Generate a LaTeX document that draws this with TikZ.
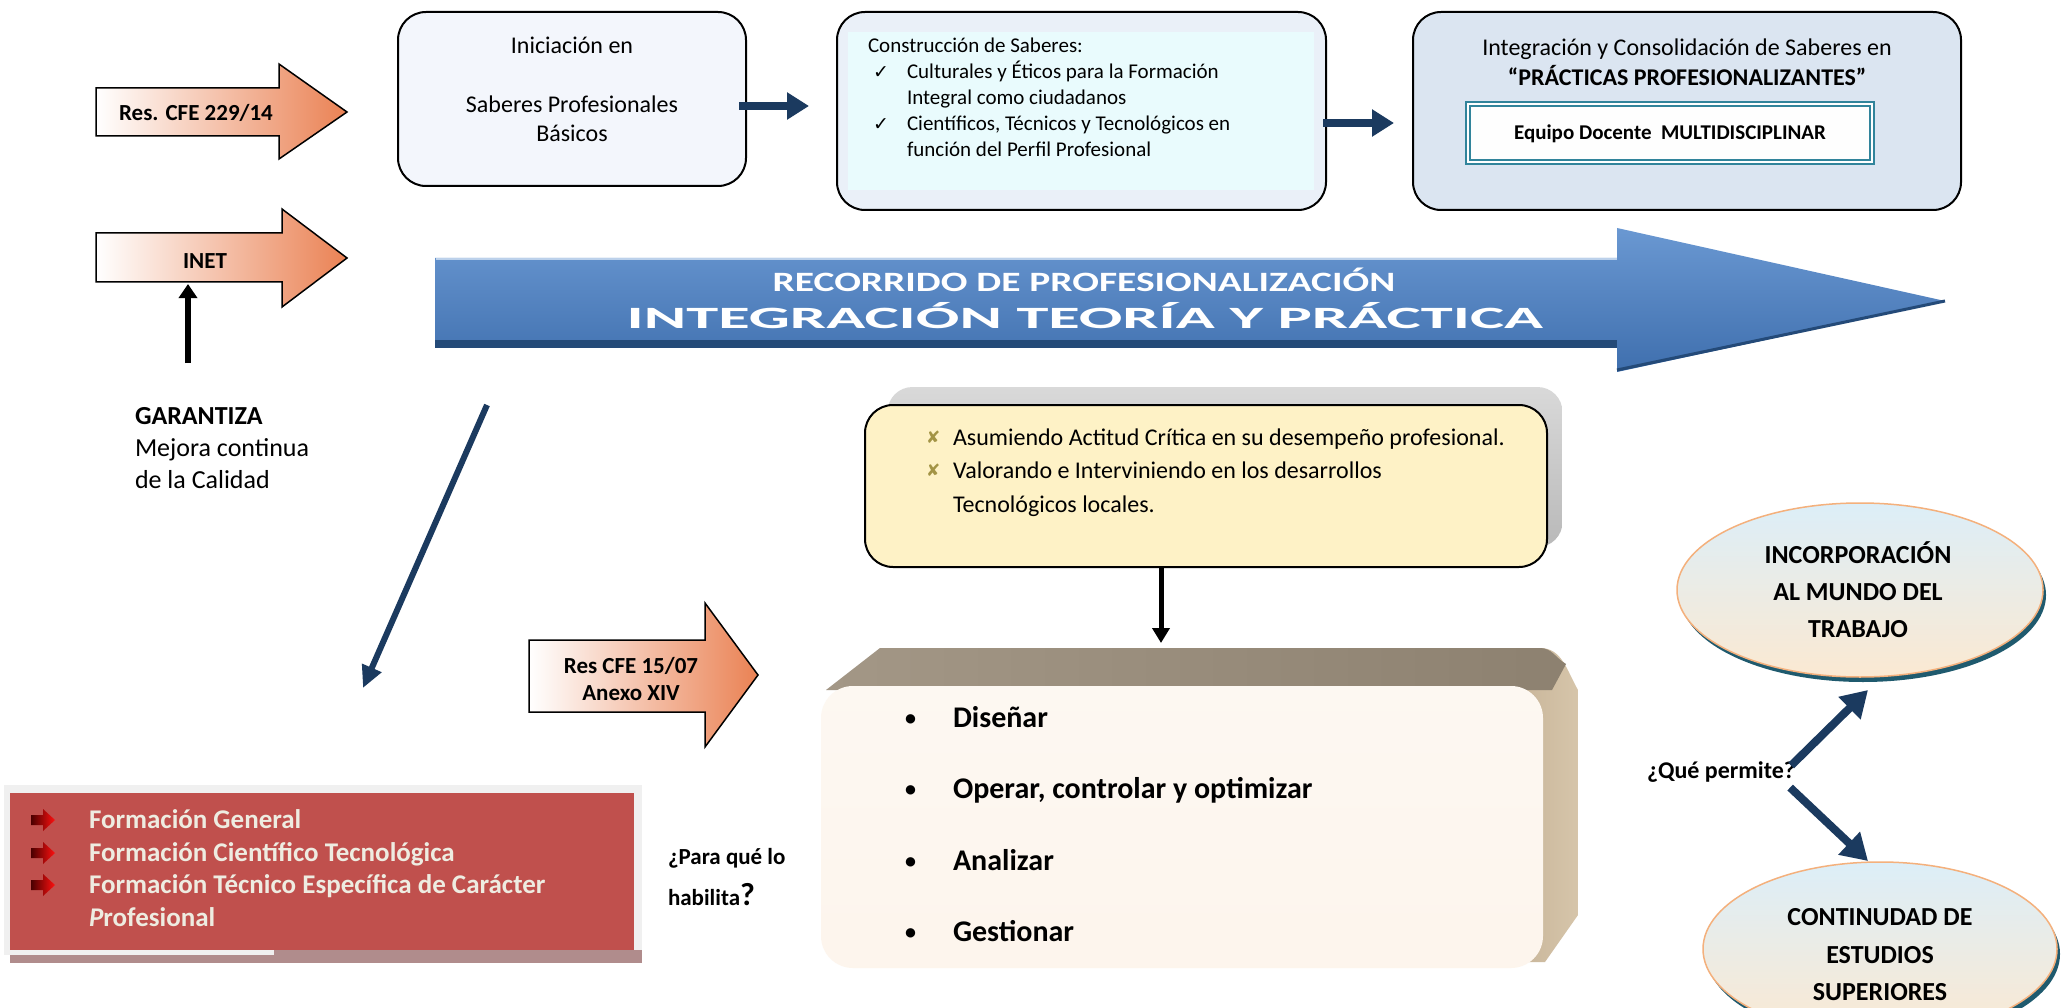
\documentclass[tikz,border=0pt]{standalone}
\usepackage{graphicx}
\usepackage{fontspec}
\setmainfont{Carlito}
\newfontfamily\symfont{DejaVu Sans}
\usetikzlibrary{arrows.meta,calc,shapes.geometric}
\definecolor{navy}{HTML}{1B3A5F}
\definecolor{boxa}{HTML}{F3F6FC}
\definecolor{boxb}{HTML}{EAF0F8}
\definecolor{boxbin}{HTML}{E9FBFD}
\definecolor{boxc}{HTML}{DBE5F1}
\definecolor{tealc}{HTML}{31849B}
\definecolor{orng}{HTML}{EA8254}
\definecolor{bluetop}{HTML}{6A98D2}
\definecolor{bluebot}{HTML}{3F6FAE}
\definecolor{blueedge}{HTML}{244A78}
\definecolor{yel}{HTML}{FEF2C6}
\definecolor{shadowgray}{HTML}{B9B9B9}
\definecolor{redbox}{HTML}{C0504D}
\definecolor{cream}{HTML}{EEECE1}
\definecolor{olive}{HTML}{A39445}
\definecolor{darkred}{HTML}{4A0000}
\definecolor{brightred}{HTML}{FF1010}
\definecolor{framegray}{HTML}{F0F0F0}
\definecolor{redshadow}{HTML}{B08C8C}
\definecolor{facetop}{HTML}{8D8170}
\definecolor{facetopl}{HTML}{A39786}
\definecolor{faceside}{HTML}{D6C5AA}
\definecolor{facesided}{HTML}{C2AE92}
\definecolor{peach}{HTML}{F8E2CA}
\definecolor{ellblue}{HTML}{DCEEF8}
\definecolor{ellcream}{HTML}{FBE9D2}
\definecolor{ellborder}{HTML}{F4B07C}
\definecolor{ellshadow}{HTML}{1F5A6E}
\begin{document}
\begin{tikzpicture}[x=1pt,y=-1pt,
  every node/.style={inner sep=0pt,outer sep=0pt},
  txt/.style={font=\fontsize{#1}{#1}\selectfont},
  txtb/.style={font=\fontsize{#1}{#1}\selectfont\bfseries},
  resarrow/.style={draw=black,line width=1.5pt,left color=white,right color=orng},
  navyarrow/.style={draw=navy,line width=8pt,-{Triangle[width=26pt,length=22pt]}},
  navyarrowb/.style={draw=navy,line width=8pt,-{Triangle[width=30pt,length=26pt]}},
  blackarrow/.style={draw=black,line width=5pt,-{Triangle[width=17pt,length=15pt]}},
  roundbox/.style={draw=black,line width=2pt,rounded corners=28pt},
  ckmark/.style={font=\symfont\fontsize{19}{19}\selectfont},
  xmark/.style={text=olive,font=\symfont\fontsize{17}{17}\selectfont},
  ell/.style={ellipse,draw=ellborder,line width=1.5pt,top color=ellblue,bottom color=ellcream},
  ellsh/.style={ellipse,fill=ellshadow},
  redarrowpic/.pic={\path[left color=darkred,right color=brightred] (-12,-5) -- (0,-5) -- (0,-11) -- (12,0) -- (0,11) -- (0,5) -- (-12,5) -- cycle;}
]
\useasboundingbox (0,0) rectangle (2066,1008);
\fill[white] (0,0) rectangle (2066,1008);
\clip (0,0) rectangle (2066,1008);

% ---------- left block arrows ----------
\path[resarrow] (96,88) -- (279,88) -- (279,64) -- (347,112) -- (279,159) -- (279,136) -- (96,136) -- cycle;
\node[txtb=23,anchor=base] (res229) at (196,121) {Res. CFE 229/14};
\path[resarrow] (96,233) -- (282,233) -- (282,209) -- (347,258) -- (282,307) -- (282,282) -- (96,282) -- cycle;
\node[txtb=23,anchor=base] (inet) at (205,269) {INET};
\coordinate (upfoot) at (188,363);
\coordinate (inetbottom) at (188,284);
\draw[blackarrow,line width=6pt,-{Triangle[width=18pt,length=14pt]}] (upfoot) -- (inetbottom);

\node[txtb=26,anchor=base west] (gar1) at (135,424) {GARANTIZA};
\node[txt=26,anchor=base west] (gar2) at (135,456) {Mejora continua};
\node[txt=26,anchor=base west] (gar3) at (135,488) {de la Calidad};

% ---------- top boxes ----------
\node[roundbox,fill=boxa,minimum width=348pt,minimum height=174pt] (box1) at (572,99) {};
\node[txt=24,anchor=base] (ini1) at (572,54) {Iniciación en};
\node[txt=24,anchor=base] (ini2) at (572,113) {Saberes Profesionales};
\node[txt=24,anchor=base] (ini3) at (572,142) {Básicos};

\node[roundbox,fill=boxb,minimum width=489pt,minimum height=198pt] (box2) at (1081.5,111) {};
\node[fill=boxbin,minimum width=466pt,minimum height=158pt] (box2in) at (1081,111) {};
\node[txt=21,anchor=base west] (cs0) at (868,53) {Construcción de Saberes:};
\node[ckmark,anchor=base west] (ck1) at (873,79) {✓};
\node[txt=21,anchor=base west] (cs1) at (907,79) {Culturales y Éticos para la Formación};
\node[txt=21,anchor=base west] (cs2) at (907,105) {Integral como ciudadanos};
\node[ckmark,anchor=base west] (ck2) at (873,131) {✓};
\node[txt=21,anchor=base west] (cs3) at (907,131) {Científicos, Técnicos y Tecnológicos en};
\node[txt=21,anchor=base west] (cs4) at (907,157) {función del Perfil Profesional};

\node[roundbox,fill=boxc,minimum width=548pt,minimum height=198pt] (box3) at (1687,111) {};
\node[txt=24,anchor=base] (ic1) at (1687,56) {Integración y Consolidación de Saberes en};
\node[txtb=24,anchor=base] (ic2) at (1687,86) {“PRÁCTICAS PROFESIONALIZANTES”};
\node[draw=tealc,line width=1.6pt,double=white,double distance=2pt,fill=white!96!boxc,minimum width=404pt,minimum height=58pt] (equipo) at (1670,133) {};
\node[txtb=21,anchor=base] (eq) at (1670,140) {Equipo Docente\ \ MULTIDISCIPLINAR};

\draw[navyarrow,shorten >=28pt] ([xshift=-7pt,yshift=-7pt]box1.east) -- ([yshift=-7pt]box1.east -| box2.west);
\draw[navyarrow,shorten >=19pt] ([xshift=-3pt,yshift=-12pt]box2.east) -- ([yshift=-12pt]box2.east -| box3.west);

% ---------- big blue arrow ----------
\path[top color=bluetop,bottom color=bluebot] (435,258) -- (1617,258) -- (1617,228) -- (1945,301) -- (1617,372) -- (1617,347) -- (435,347) -- cycle;
\fill[blueedge] (435,340) rectangle (1617,348);
\draw[blueedge,line width=3pt] (1617,370) -- (1945,301);
\draw[white!55!bluetop,line width=2pt] (436,259) -- (1617,259);
\node[txtb=28,text=white,anchor=base] (rec) at (1084,291) {\scalebox{1.41}[1]{RECORRIDO DE PROFESIONALIZACIÓN}};
\node[txtb=31,text=white,anchor=base] (integ) at (1085,328) {\scalebox{2.08}[1]{INTEGRACIÓN TEORÍA Y PRÁCTICA}};

% ---------- diagonal arrow ----------
\coordinate (dstart) at (487,405);
\coordinate (dend) at (363,688);
\draw[draw=navy,line width=6pt,-{Triangle[width=20pt,length=22pt]}] (dstart) -- (dend);

% ---------- yellow box ----------
\node[rounded corners=25pt,top color=gray!30,bottom color=shadowgray,minimum width=675pt,minimum height=160pt] (yshadow) at (1225,467) {};
\node[roundbox,fill=yel,minimum width=682pt,minimum height=162pt] (ybox) at (1206,486) {};
\node[xmark,anchor=base west] (yb1) at (926,443) {✘};
\node[txt=24,anchor=base west] (y1) at (953,445) {Asumiendo Actitud Crítica en su desempeño profesional.};
\node[xmark,anchor=base west] (yb2) at (926,476) {✘};
\node[txt=24,anchor=base west] (y2) at (953,478) {Valorando e Interviniendo en los desarrollos};
\node[txt=24,anchor=base west] (y3) at (953,512) {Tecnológicos locales.};

\coordinate (dtop) at (1161,643);
\draw[blackarrow] (ybox.south -| dtop) -- (dtop);

% ---------- Res CFE 15/07 ----------
\path[resarrow] (529,640) -- (705,640) -- (705,603) -- (758,675) -- (705,747) -- (705,712) -- (529,712) -- cycle;
\node[txtb=23,anchor=base] (res15a) at (631,673) {Res CFE 15/07};
\node[txtb=23,anchor=base] (res15b) at (631,700) {Anexo XIV};

% ---------- bottom 3D box ----------
\path[left color=facesided,right color=faceside] (1490,648) -- (1540,648) to[out=0,in=120] (1578,690) -- (1578,915) -- (1545,962) -- (1490,962) -- cycle;
\path[left color=facetopl,right color=facetop] (826,690) -- (880,648) -- (1540,648) to[out=0,in=150] (1566,664) -- (1552,690) -- cycle;
\node[rounded corners=32pt,minimum width=722pt,minimum height=282pt,top color=white!75!peach,middle color=peach,bottom color=white!65!peach] (bbox) at (1182,827) {};
\node[txtb=22,anchor=base west] (bb1) at (905,725) {•};
\node[txtb=30,anchor=base west] (b1) at (953,727) {Diseñar};
\node[txtb=22,anchor=base west] (bb2) at (905,796) {•};
\node[txtb=30,anchor=base west] (b2) at (953,798) {Operar, controlar y optimizar};
\node[txtb=22,anchor=base west] (bb3) at (905,868) {•};
\node[txtb=30,anchor=base west] (b3) at (953,870) {Analizar};
\node[txtb=22,anchor=base west] (bb4) at (905,939) {•};
\node[txtb=30,anchor=base west] (b4) at (953,941) {Gestionar};

% ---------- red box ----------
\node[fill=framegray,minimum width=638pt,minimum height=170pt] (rframe) at (323,870) {};
\fill[redshadow] (10,955) rectangle (274,963);
\fill[redshadow] (274,950) rectangle (642,963);
\node[fill=redbox,minimum width=624pt,minimum height=157pt] (rbox) at (322,871.5) {};
\pic at (43,820) {redarrowpic};
\pic at (43,853) {redarrowpic};
\pic at (43,885) {redarrowpic};
\node[txtb=27,text=cream,anchor=base west] (r1) at (89,828) {Formación General};
\node[txtb=27,text=cream,anchor=base west] (r2) at (89,861) {Formación Científico Tecnológica};
\node[txtb=27,text=cream,anchor=base west] (r3) at (89,893) {Formación Técnico Específica de Carácter};
\node[txtb=27,text=cream,anchor=base west] (r4) at (89,926) {\textit{P}rofesional};

\node[txtb=23,anchor=base west] (pq1) at (668,864) {¿Para qué lo};
\node[txtb=23,anchor=base west] (pq2) at (668,905) {habilita{\fontsize{32}{32}\selectfont ?}};

% ---------- ellipses ----------
\node[ellsh,minimum width=366pt,minimum height=174pt] (e1s) at (1863,595) {};
\node[ell,minimum width=366pt,minimum height=174pt] (e1) at (1860,590) {};
\node[txtb=26,anchor=base] (e1a) at (1858,563) {INCORPORACIÓN};
\node[txtb=26,anchor=base] (e1b) at (1858,600) {AL MUNDO DEL};
\node[txtb=26,anchor=base] (e1c) at (1858,637) {TRABAJO};

\node[ellsh,minimum width=354pt,minimum height=174pt] (e2s) at (1883,954) {};
\node[ell,minimum width=354pt,minimum height=174pt] (e2) at (1880,949) {};
\node[txtb=26,anchor=base] (e2a) at (1880,925) {CONTINUDAD DE};
\node[txtb=26,anchor=base] (e2b) at (1880,963) {ESTUDIOS};
\node[txtb=26,anchor=base] (e2c) at (1880,1000) {SUPERIORES};

\node[txtb=24,anchor=base west] (qp) at (1647,778) {¿Qué permite?};
\draw[navyarrowb] ($(qp.east)+(-4,-6)$) -- ($(e1.south)+(8,13)$);
\draw[navyarrowb] ($(qp.east)+(-5,16)$) -- ($(e2.north)+(-12,-1)$);
\end{tikzpicture}
\end{document}
